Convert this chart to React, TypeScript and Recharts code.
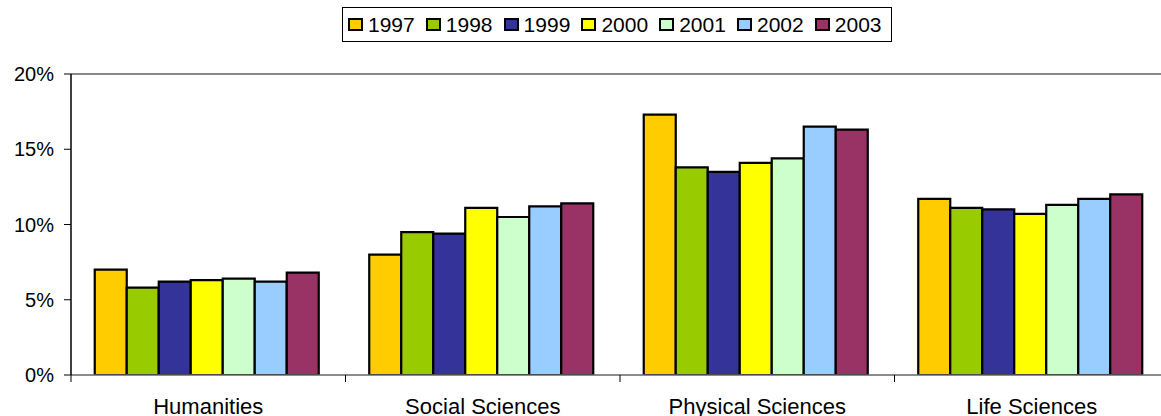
import React from 'react';
import { BarChart, Bar, XAxis, YAxis, ReferenceLine } from 'recharts';

const categories = ['Humanities', 'Social Sciences', 'Physical Sciences', 'Life Sciences'];
const years = ['1997', '1998', '1999', '2000', '2001', '2002', '2003'];
const colors = ['#FFCC00', '#99CC00', '#333399', '#FFFF00', '#CCFFCC', '#99CCFF', '#993366'];

const v1997 = [7.0, 8.0, 17.3, 11.7];
const v1998 = [5.8, 9.5, 13.8, 11.1];
const v1999 = [6.2, 9.4, 13.5, 11.0];
const v2000 = [6.3, 11.1, 14.1, 10.7];
const v2001 = [6.4, 10.5, 14.4, 11.3];
const v2002 = [6.2, 11.2, 16.5, 11.7];
const v2003 = [6.8, 11.4, 16.3, 12.0];

const yTicks = [0, 5, 10, 15, 20];

const series = [v1997, v1998, v1999, v2000, v2001, v2002, v2003];
const data = categories.map((c, i) => {
  const row: Record<string, string | number> = { name: c };
  years.forEach((y, j) => {
    row[y] = series[j][i];
  });
  return row;
});

const FONT = '"Liberation Sans", Arial, sans-serif';

const CategoryTick = (props: any) => {
  const { x, y, payload, index } = props;
  const off = payload && typeof payload.offset === 'number' ? payload.offset : 137.25;
  return (
    <g>
      <line x1={x - off} y1={y} x2={x - off} y2={y + 7} stroke="#000" strokeWidth={1} />
      {index === categories.length - 1 && (
        <line x1={x + off} y1={y} x2={x + off} y2={y + 7} stroke="#000" strokeWidth={1} />
      )}
      <text x={x} y={y + 23} dy="0.71em" textAnchor="middle" fill="#000" fontSize={22} fontFamily={FONT}>
        {payload.value}
      </text>
    </g>
  );
};

export default function App() {
  return (
    <div style={{ position: 'absolute', left: 0, top: 0, width: 1161, height: 416, overflow: 'hidden', background: '#fff' }}>
      <div
        style={{
          position: 'absolute',
          left: 342,
          top: 7,
          width: 550,
          height: 35,
          boxSizing: 'border-box',
          border: '1px solid #000',
          display: 'flex',
          alignItems: 'center',
          paddingLeft: 5,
          fontFamily: FONT,
          fontSize: 21,
          color: '#000',
          background: '#fff',
        }}
      >
        {years.map((y, i) => (
          <div key={y} style={{ display: 'flex', alignItems: 'center', width: 77.8, flex: 'none' }}>
            <span
              style={{
                display: 'inline-block',
                boxSizing: 'border-box',
                width: 15,
                height: 13,
                background: colors[i],
                border: '2px solid #000',
                marginRight: 5,
                flex: 'none',
              }}
            />
            <span>{y}</span>
          </div>
        ))}
      </div>
      <BarChart
        width={1170}
        height={416}
        data={data}
        margin={{ top: 74, right: 1, bottom: 0, left: 0 }}
        barCategoryGap="8.65%"
        barGap={0}
      >
        <XAxis
          dataKey="name"
          height={41}
          tickLine={false}
          tickSize={0}
          tickMargin={0}
          axisLine={{ stroke: '#666', strokeWidth: 1.5 }}
          tick={<CategoryTick />}
          interval={0}
        />
        <YAxis
          width={71}
          domain={[0, 20]}
          ticks={yTicks}
          tickFormatter={(v: number) => `${v}%`}
          tickSize={7}
          tickMargin={10}
          tickLine={{ stroke: '#000' }}
          axisLine={{ stroke: '#000', strokeWidth: 1.5 }}
          tick={{ fill: '#000', fontSize: 20, fontFamily: FONT }}
          allowDataOverflow
        />
        <ReferenceLine y={20} stroke="#888" strokeWidth={2} />
        {years.map((y, i) => (
          <Bar key={y} dataKey={y} fill={colors[i]} stroke="#000" strokeWidth={2.2} isAnimationActive={false} />
        ))}
      </BarChart>
    </div>
  );
}
